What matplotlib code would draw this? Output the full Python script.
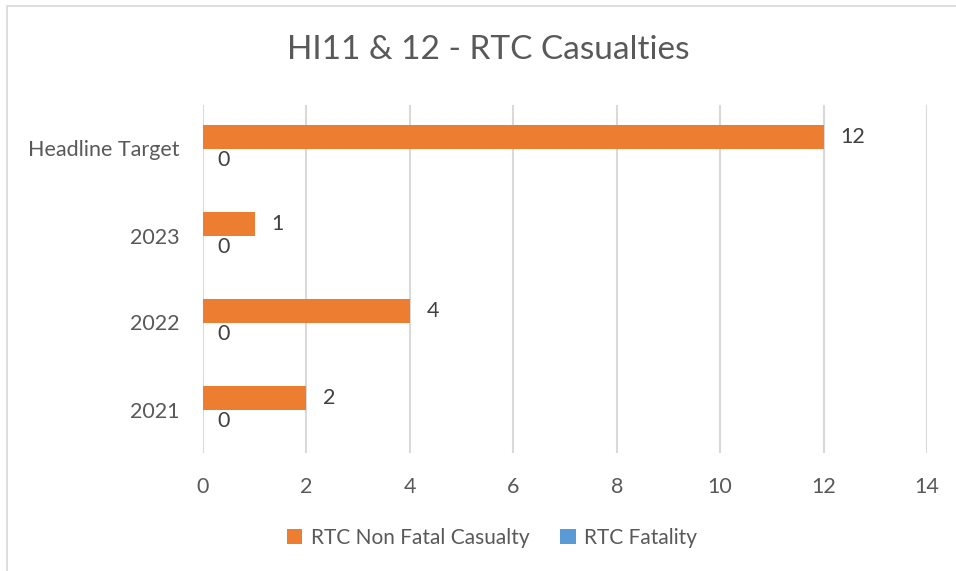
import matplotlib
matplotlib.use("Agg")
import matplotlib.pyplot as plt
import numpy as np
from matplotlib.patches import Rectangle

plt.rcParams['font.family'] = ['Lato', 'DejaVu Sans']

categories = ['2021', '2022', '2023', 'Headline Target']
non_fatal = [2, 4, 1, 12]
fatality = [0, 0, 0, 0]

ORANGE = '#ED7D31'
BLUE = '#5B9BD5'
GREY = '#595959'
LABEL = '#404040'

W, H = 956, 571
fig = plt.figure(figsize=(W / 100, H / 100), dpi=100)

# chart border
fig.patches.append(Rectangle((7 / W, -0.01), 1.0, 1 - 6 / H + 0.01,
                             transform=fig.transFigure, fill=False,
                             edgecolor='#D9D9D9', linewidth=1.2))

ax = fig.add_axes([203 / W, (H - 453) / H, 724 / W, 348 / H])

y = np.arange(len(categories))
h = 0.265
b1 = ax.barh(y + h / 2, non_fatal, height=h, color=ORANGE, label='RTC Non Fatal Casualty')
b2 = ax.barh(y - h / 2, fatality, height=h, color=BLUE, label='RTC Fatality')
ax.bar_label(b1, padding=12, fontsize=15.5, color=LABEL)
ax.bar_label(b2, padding=10, fontsize=15.5, color=LABEL)

ax.set_xlim(0, 14)
ax.set_ylim(-0.5, 3.5)
ax.set_xticks(np.arange(0, 15, 2))
ax.set_yticks(y)
ax.set_yticklabels(categories)
ax.tick_params(axis='both', length=0, labelsize=15.5, labelcolor=GREY)
ax.tick_params(axis='x', pad=17)
ax.tick_params(axis='y', pad=17)
ax.grid(axis='x', color='#D9D9D9', linewidth=1.5)
ax.set_axisbelow(True)
for s in ax.spines.values():
    s.set_visible(False)

fig.text(488 / W, 1 - 50 / H, 'HI11 & 12 - RTC Casualties', ha='center', va='center',
         fontsize=24, color=GREY)

fig.legend(handles=[b1, b2], loc='center', bbox_to_anchor=(492 / W, 1 - 538 / H),
           ncol=2, frameon=False, fontsize=15, labelcolor=GREY,
           handlelength=0.75, handleheight=0.75, handletextpad=0.4, columnspacing=1.5)

fig.savefig('out.png', dpi=100)
